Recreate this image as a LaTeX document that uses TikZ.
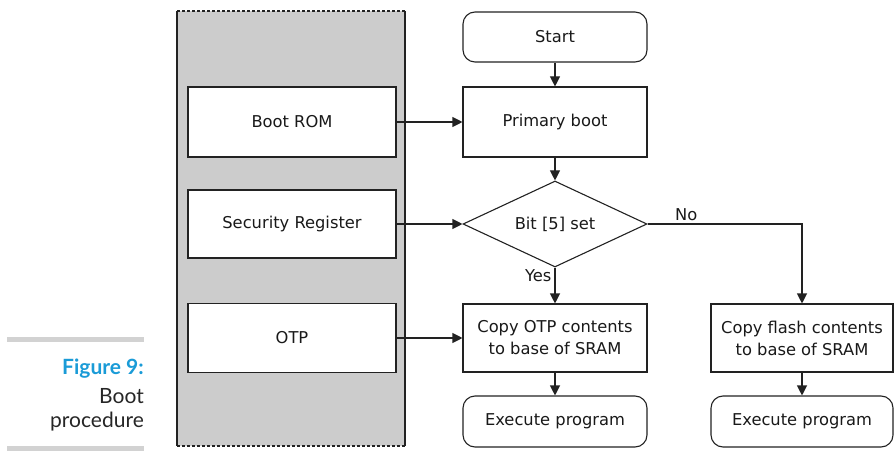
\documentclass[tikz,border=0pt]{standalone}
\usepackage{fontspec}
\usepackage{xcolor}
\usetikzlibrary{shapes.geometric,arrows.meta}
\setmainfont{DejaVu Sans}
\newfontfamily\capfont{Lato}
\definecolor{figblue}{HTML}{1A9BD7}
\definecolor{panelgray}{HTML}{CCCCCC}
\definecolor{bargray}{HTML}{D2D2D2}
\definecolor{linegray}{HTML}{222222}

\begin{document}
\begin{tikzpicture}[x=1pt,y=-1pt]
  \tikzstyle{boxn}=[rectangle,draw=linegray,fill=white,line width=1.1pt,minimum width=184pt,align=center,inner sep=0,
    font=\fontsize{16.3}{22}\selectfont,text=black!90]
  \tikzstyle{rboxn}=[boxn,rounded corners=12pt,minimum height=50pt]
  \tikzstyle{decn}=[diamond,draw=linegray,fill=white,line width=1.1pt,aspect=2.14,inner sep=0,
    minimum width=184pt,minimum height=86pt,font=\fontsize{16.3}{22}\selectfont,text=black!90]
  \tikzstyle{arr}=[draw=linegray,line width=1.1pt,-{Triangle[length=10pt,width=10pt]}]
  \tikzstyle{lbl}=[font=\fontsize{16.3}{22}\selectfont,text=black!90,inner sep=3pt]
  \useasboundingbox (0,0) rectangle (896,454);
  % caption
  \fill[bargray] (7,337) rectangle (144,342);
  \fill[bargray] (7,446) rectangle (144,451);
  \node(cap1)[anchor=base east,inner sep=0,font=\capfont\fontsize{21}{24}\selectfont\bfseries,text=figblue] at (144,374) {Figure 9:};
  \node(cap2)[anchor=base east,inner sep=0,font=\capfont\fontsize{21}{24}\selectfont,text=black!85] at (144,403) {Boot};
  \node(cap3)[anchor=base east,inner sep=0,font=\capfont\fontsize{21}{24}\selectfont,text=black!85] at (144,427) {procedure};
  % memory panel
  \fill[panelgray] (177,11) rectangle (405,446);
  \draw[linegray,line width=1.1pt] (177,11) -- (177,446) (405,11) -- (405,446);
  \draw[linegray,line width=1.2pt,dash pattern=on 3pt off 2pt] (177,11) -- (405,11) (177,446) -- (405,446);
  \node(rom)[boxn,minimum width=208pt,minimum height=70pt] at (292,122) {Boot ROM};
  \node(sreg)[boxn,minimum width=208pt,minimum height=68pt] at (292,224) {Security Register};
  \node(otp)[boxn,minimum width=208pt,minimum height=69pt] at (292,338) {OTP};
  % flow
  \node(start)[rboxn] at (555,37) {Start};
  \node(pboot)[boxn,minimum height=70pt] at (555,122) {Primary boot};
  \node(bit)[decn] at (555,224) {Bit [5] set};
  \node(cotp)[boxn,minimum height=68pt] at (555,338) {Copy OTP contents\\to base of SRAM};
  \node(exe1)[rboxn,minimum height=51pt] at (555,421.5) {Execute program};
  \node(cfl)[boxn,minimum width=182pt,minimum height=68pt] at (802,338) {Copy flash contents\\to base of SRAM};
  \node(exe2)[rboxn,minimum width=182pt,minimum height=51pt] at (802,421.5) {Execute program};
  \draw[arr] (start) -- (pboot);
  \draw[arr] (pboot) -- (bit);
  \draw[arr] (bit) -- node[lbl,pos=0.22,left]{Yes} (cotp);
  \draw[arr] (bit.east) -| node[lbl,pos=0.125,above]{No} (cfl);
  \draw[arr] (cotp) -- (exe1);
  \draw[arr] (cfl) -- (exe2);
  \draw[arr] (rom) -- (pboot);
  \draw[arr] (sreg) -- (bit);
  \draw[arr] (otp) -- (cotp);
\end{tikzpicture}
\end{document}
